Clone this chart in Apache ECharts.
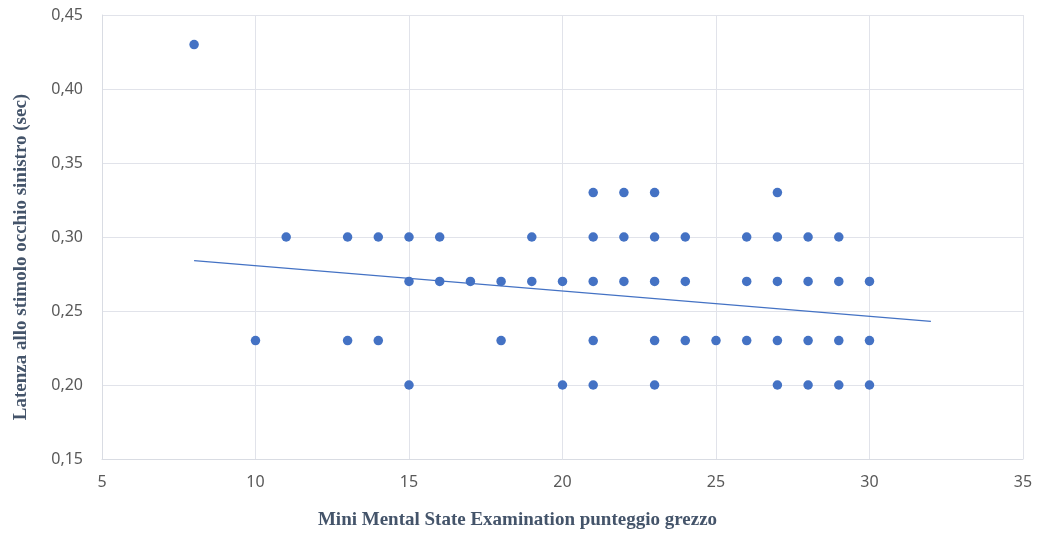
<!DOCTYPE html>
<html>
<head>
<meta charset="utf-8">
<script src="https://cdn.jsdelivr.net/npm/echarts@6/dist/echarts.min.js"></script>
<style>html,body{margin:0;padding:0;background:#fff}#c{width:1040px;height:540px}</style>
</head>
<body>
<div id="c"></div>
<script>
// Scatter data: [MMSE score, latency (sec)]
const pts043 = [8];
const pts033 = [21, 22, 23, 27];
const pts030 = [11, 13, 14, 15, 16, 19, 21, 22, 23, 24, 26, 27, 28, 29];
const pts027 = [15, 16, 17, 18, 19, 20, 21, 22, 23, 24, 26, 27, 28, 29, 30];
const pts023 = [10, 13, 14, 18, 21, 23, 24, 25, 26, 27, 28, 29, 30];
const pts020 = [15, 20, 21, 23, 27, 28, 29, 30];
const trendLine = [[8, 0.284], [32, 0.243]];
const xTicks = [5, 10, 15, 20, 25, 30, 35];
const yTicks = [0.15, 0.20, 0.25, 0.30, 0.35, 0.40, 0.45];

const rows = [[0.43, pts043], [0.33, pts033], [0.30, pts030], [0.27, pts027], [0.23, pts023], [0.20, pts020]];
const scatterData = [];
rows.forEach(([y, xs]) => xs.forEach(x => scatterData.push([x, y])));

const chart = echarts.init(document.getElementById('c'));
const gridColor = '#e1e3ea';
chart.setOption({
  animation: false,
  grid: { left: 102, right: 17, top: 15, bottom: 81, outerBoundsMode: 'none', containLabel: false },
  xAxis: {
    type: 'value', min: xTicks[0], max: xTicks[xTicks.length - 1], interval: 5,
    name: 'Mini Mental State Examination punteggio grezzo',
    nameLocation: 'middle', nameGap: 52,
    nameTextStyle: { fontFamily: 'Liberation Serif', fontWeight: 'bold', fontSize: 19, color: '#44546a', padding: [0, 90, 0, 0] },
    axisLine: { show: true, lineStyle: { color: '#d9dce3' } },
    axisTick: { show: false },
    axisLabel: { color: '#595959', fontSize: 16, fontFamily: 'Noto Sans', margin: 15 },
    splitLine: { show: true, lineStyle: { color: gridColor } }
  },
  yAxis: {
    type: 'value', min: yTicks[0], max: yTicks[yTicks.length - 1], interval: 0.05,
    name: 'Latenza allo stimolo occhio sinistro (sec)',
    nameLocation: 'middle', nameGap: 71,
    nameTextStyle: { fontFamily: 'Liberation Serif', fontWeight: 'bold', fontSize: 19, color: '#44546a', padding: [0, 40, 0, 0] },
    axisLine: { show: true, lineStyle: { color: '#d9dce3' } },
    axisTick: { show: false },
    axisLabel: { color: '#595959', fontSize: 16, fontFamily: 'Noto Sans', margin: 19,
      formatter: v => v.toFixed(2).replace('.', ',') },
    splitLine: { show: true, lineStyle: { color: gridColor } }
  },
  series: [
    { type: 'scatter', data: scatterData, symbolSize: 9.5, itemStyle: { color: '#4472c4', opacity: 1 } },
    { type: 'line', data: trendLine, symbol: 'none', lineStyle: { color: '#4472c4', width: 1.3 } }
  ]
});
</script>
</body>
</html>
